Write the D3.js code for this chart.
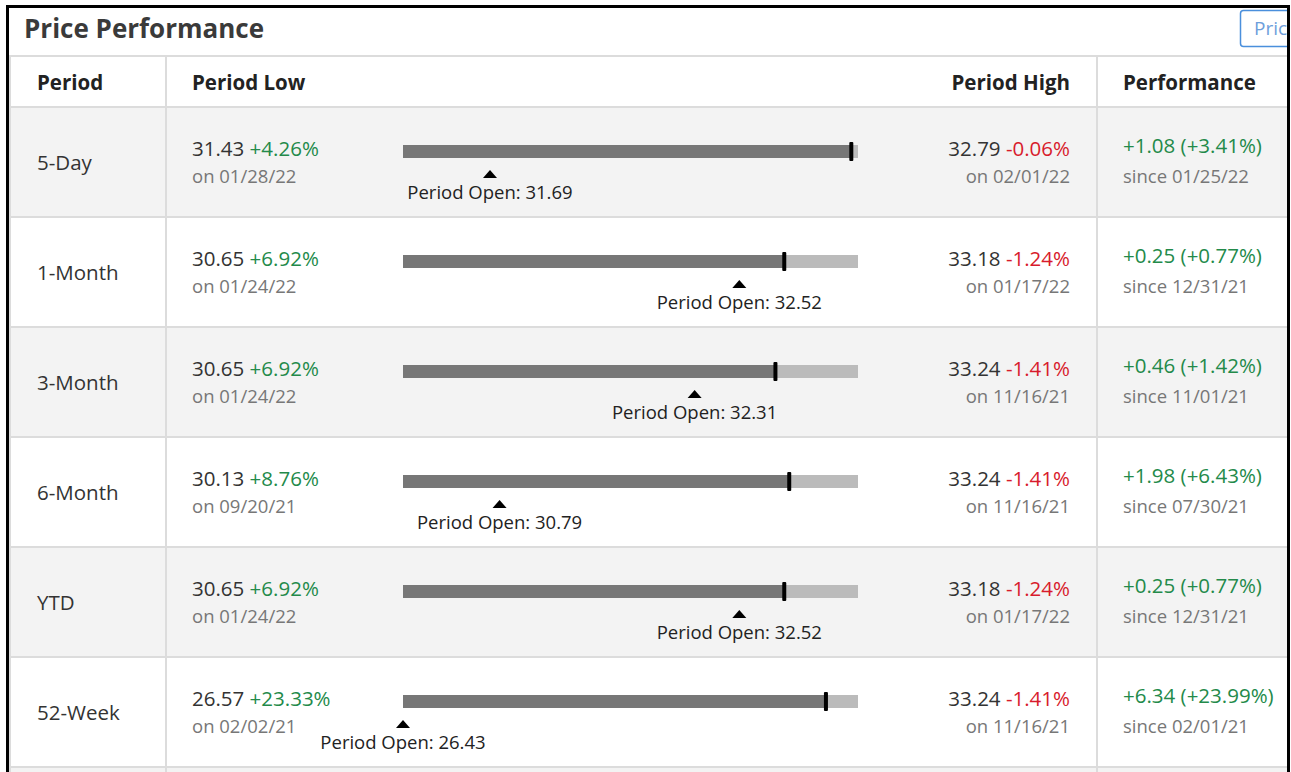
<!DOCTYPE html>
<html>
<head>
<meta charset="utf-8">
<script src="https://cdn.jsdelivr.net/npm/d3@7"></script>
<style>
  body { margin: 0; background: #fff; }
  svg { display: block; font-family: "Open Sans", sans-serif; }
</style>
</head>
<body>
<svg width="1291" height="772"></svg>
<script>
// table values
var periods = ["5-Day", "1-Month", "3-Month", "6-Month", "YTD", "52-Week"];
var lows = [31.43, 30.65, 30.65, 30.13, 30.65, 26.57];
var lowPct = [4.26, 6.92, 6.92, 8.76, 6.92, 23.33];
var lowDates = ["01/28/22", "01/24/22", "01/24/22", "09/20/21", "01/24/22", "02/02/21"];
var highs = [32.79, 33.18, 33.24, 33.24, 33.18, 33.24];
var highPct = [-0.06, -1.24, -1.41, -1.41, -1.24, -1.41];
var highDates = ["02/01/22", "01/17/22", "11/16/21", "11/16/21", "01/17/22", "11/16/21"];
var opens = [31.69, 32.52, 32.31, 30.79, 32.52, 26.43];
var changes = [1.08, 0.25, 0.46, 1.98, 0.25, 6.34];
var changePct = [3.41, 0.77, 1.42, 6.43, 0.77, 23.99];
var sinceDates = ["01/25/22", "12/31/21", "11/01/21", "07/30/21", "12/31/21", "02/01/21"];
var lastPrice = 32.77;
var headers = ["Period", "Period Low", "Period High", "Performance"];

var green = "#238a4a", red = "#d81b2c";
var fMain = 20.5, fSub = 18.5;

var svg = d3.select("svg");

svg.append("defs").append("clipPath").attr("id", "box")
    .append("rect").attr("x", 9).attr("y", 8).attr("width", 1278).attr("height", 764);

var g = svg.append("g").attr("clip-path", "url(#box)");

g.append("rect").attr("x", 9).attr("y", 8).attr("width", 1278).attr("height", 764).attr("fill", "#fff");

// title
g.append("text").text("Price Performance")
    .attr("x", 24).attr("y", 38)
    .attr("font-size", 26).attr("font-weight", 700).attr("fill", "#3a3a3a");

// the cut off button
g.append("rect").attr("x", 1240.5).attr("y", 10.5).attr("width", 80).attr("height", 36).attr("rx", 3)
    .attr("fill", "#fff").attr("stroke", "#4a8fdc").attr("stroke-width", 1.5);
g.append("text").text("Pric").attr("x", 1254).attr("y", 35)
    .attr("font-size", 19).attr("fill", "#6d9edb");

var rowH = 110, top0 = 108;
var rowY = d3.scaleLinear().domain([0, 1]).range([top0, top0 + rowH]);

// rows backgrounds (one extra row peeks at the bottom)
g.selectAll(".bg").data(d3.range(periods.length + 1)).enter().append("rect")
    .attr("x", 9).attr("y", function(i){ return rowY(i); })
    .attr("width", 1280).attr("height", rowH)
    .attr("fill", function(i){ return i % 2 == 0 ? "#f3f3f3" : "#fff"; });

// horizontal lines
g.selectAll(".hl").data(d3.range(periods.length + 2)).enter().append("rect")
    .attr("x", 9).attr("y", function(i){ return i == 0 ? 55 : rowY(i - 1) - 2; })
    .attr("width", 1280).attr("height", 2).attr("fill", "#dcdcdc");

// vertical lines
[9, 165, 1096].forEach(function(x){
    g.append("rect").attr("x", x).attr("y", 55).attr("width", 2).attr("height", 720).attr("fill", "#dcdcdc");
});

// header
var hx = [37, 192, 1070, 1123];
headers.forEach(function(h, i){
    g.append("text").text(h).attr("x", hx[i]).attr("y", 90)
        .attr("text-anchor", i == 2 ? "end" : "start")
        .attr("font-size", fMain).attr("font-weight", 700).attr("fill", "#222");
});

function fmtPct(v){ return (v >= 0 ? "+" : "") + v.toFixed(2) + "%"; }

periods.forEach(function(p, i){
    var t = rowY(i);
    var row = g.append("g").attr("transform", "translate(0," + t + ")");

    row.append("text").text(p).attr("x", 37).attr("y", 62)
        .attr("font-size", fMain).attr("fill", "#333");

    // period low
    var lt = row.append("text").attr("x", 192).attr("y", 48).attr("font-size", fMain);
    lt.append("tspan").text(lows[i].toFixed(2) + " ").attr("fill", "#333");
    lt.append("tspan").text(fmtPct(lowPct[i])).attr("fill", green);
    row.append("text").text("on " + lowDates[i]).attr("x", 192).attr("y", 75)
        .attr("font-size", fSub).attr("fill", "#777");

    // period high
    var ht = row.append("text").attr("x", 1070).attr("y", 48).attr("font-size", fMain).attr("text-anchor", "end");
    ht.append("tspan").text(highs[i].toFixed(2) + " ").attr("fill", "#333");
    ht.append("tspan").text(fmtPct(highPct[i])).attr("fill", red);
    row.append("text").text("on " + highDates[i]).attr("x", 1070).attr("y", 75).attr("text-anchor", "end")
        .attr("font-size", fSub).attr("fill", "#777");

    // performance
    row.append("text").text((changes[i] >= 0 ? "+" : "") + changes[i].toFixed(2) + " (" + fmtPct(changePct[i]) + ")")
        .attr("x", 1123).attr("y", 45).attr("font-size", fMain).attr("fill", green);
    row.append("text").text("since " + sinceDates[i]).attr("x", 1123).attr("y", 75)
        .attr("font-size", fSub).attr("fill", "#777");

    // range bar
    var x = d3.scaleLinear().domain([lows[i], highs[i]]).range([403, 858]).clamp(true);
    row.append("rect").attr("x", x(lows[i])).attr("y", 37).attr("width", x(highs[i]) - x(lows[i])).attr("height", 13)
        .attr("fill", "#bbb");
    row.append("rect").attr("x", x(lows[i])).attr("y", 37).attr("width", x(lastPrice) - x(lows[i])).attr("height", 13)
        .attr("fill", "#777");
    row.append("rect").attr("x", x(lastPrice) - 2).attr("y", 34).attr("width", 4).attr("height", 19).attr("rx", 1)
        .attr("fill", "#000");

    var ox = x(opens[i]);
    row.append("path").attr("d", d3.line()([[ox - 7, 70], [ox, 62], [ox + 7, 70]]) + "Z").attr("fill", "#000");
    row.append("text").text("Period Open: " + opens[i].toFixed(2)).attr("x", ox).attr("y", 91)
        .attr("text-anchor", "middle").attr("font-size", fSub).attr("fill", "#222");
});

// outer black frame
svg.append("rect").attr("x", 7.5).attr("y", 6.5).attr("width", 1281).attr("height", 800)
    .attr("fill", "none").attr("stroke", "#000").attr("stroke-width", 3);
</script>
</body>
</html>
